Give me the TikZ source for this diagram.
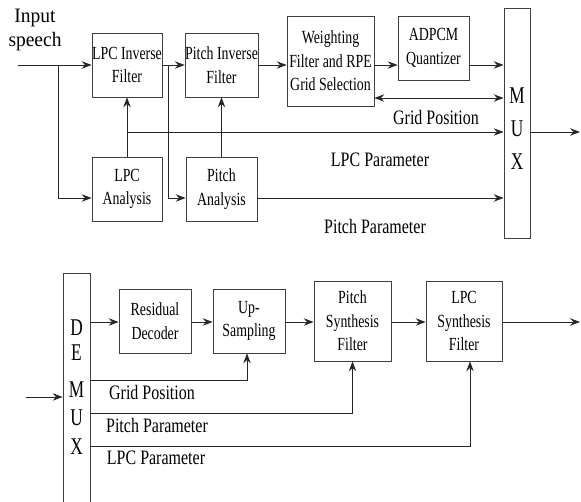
\documentclass[tikz,border=0pt]{standalone}
\usepackage{fontspec}
\setmainfont{Liberation Serif}[FakeStretch=0.78]
\newfontfamily\boxfont{Liberation Serif}[FakeStretch=0.75]
\newfontfamily\plainserif{Liberation Serif}[FakeStretch=0.95]
\newfontfamily\muxfont{Liberation Serif}[FakeStretch=0.72]
\usetikzlibrary{arrows.meta}
\begin{document}
\begin{tikzpicture}[x=1pt,y=-1pt,
  box/.style={draw=black!75, line width=0.8pt, align=center, inner sep=0pt,
    font=\boxfont\fontsize{18.5}{23.5}\selectfont},
  lbl/.style={inner sep=0pt, font=\fontsize{20.5}{23}\selectfont},
  muxl/.style={inner sep=0pt, font=\muxfont\fontsize{24}{33}\selectfont},
  line/.style={line width=0.8pt, draw=black!85},
  arr/.style={line, -{Stealth[length=10pt,width=7.5pt,inset=3.5pt]}},
  darr/.style={line, {Stealth[length=10pt,width=7.5pt,inset=3.5pt]}-{Stealth[length=10pt,width=7.5pt,inset=3.5pt]}}]
\useasboundingbox (0,0) rectangle (581,501);
% ---------- encoder ----------
\node[box, minimum width=70, minimum height=64] (lif) at (127,65) {LPC Inverse\\Filter};
\node[box, minimum width=71, minimum height=64] (pif) at (221.5,65) {Pitch Inverse\\Filter};
\node[box, minimum width=87, minimum height=90] (wf) at (330.5,61) {Weighting\\Filter and RPE\\Grid Selection};
\node[box, minimum width=71, minimum height=64] (adp) at (433.5,48) {ADPCM\\Quantizer};
\node[box, minimum width=26, minimum height=230] (mux) at (517,123) {};
\node[muxl, align=center] (muxt) at (517,128.5) {M\\U\\X};
\node[box, minimum width=70, minimum height=64] (la) at (127,189) {LPC\\Analysis};
\node[box, minimum width=71, minimum height=64] (pa) at (221.5,189) {Pitch\\Analysis};
\node[inner sep=0pt, align=center, font=\plainserif\fontsize{20.5}{24}\selectfont] (inp) at (35,30) {Input\\speech};
\coordinate (in0) at (18,65);
\coordinate (b1) at (58,65);
\coordinate (b2) at (168,65);
\coordinate (out1) at (580,132);
\node[lbl] (gpl) at (436,117) {Grid Position};
\node[lbl] (lpl) at (380,160) {LPC Parameter};
\node[lbl] (ppl) at (375,226) {Pitch Parameter};
\draw[arr] (in0) -- (lif.west |- in0);
\draw[arr] (b1) |- (la.west |- 0,198);
\draw[arr] (lif.east |- 0,65) -- (pif.west |- 0,65);
\draw[arr] (b2) |- (pa.west |- 0,198);
\draw[arr] (pif.east |- 0,65) -- (wf.west |- 0,65);
\draw[arr] (wf.east |- 0,65) -- (adp.west |- 0,65);
\draw[arr] (adp.east |- 0,65) -- (mux.west |- 0,65);
\draw[darr] (wf.east |- 0,98) -- (mux.west |- 0,98);
\draw[arr] (la.north) -- (lif.south);
\draw[arr] (la.north |- 0,132) -- (mux.west |- 0,132);
\draw[arr] (pa.north) -- (pif.south);
\draw[arr] (pa.east |- 0,198) -- (mux.west |- 0,198);
\draw[arr] (mux.east |- out1) -- (out1);
% ---------- decoder ----------
\node[box, minimum width=27, minimum height=236] (dmx) at (76.5,391) {};
\node[muxl] (dD) at (76.5,328) {D};
\node[muxl] (dE) at (76.5,353) {E};
\node[muxl] (dM) at (76.5,390) {M};
\node[muxl] (dU) at (76.5,418) {U};
\node[muxl] (dX) at (76.5,447) {X};
\node[box, minimum width=72, minimum height=64] (rd) at (155,321) {Residual\\Decoder};
\node[box, minimum width=72, minimum height=64] (us) at (249,321) {Up-\\Sampling};
\node[box, minimum width=77, minimum height=80] (psf) at (352.5,321) {Pitch\\Synthesis\\Filter};
\node[box, minimum width=76, minimum height=80] (lsf) at (464,321) {LPC\\Synthesis\\Filter};
\coordinate (in2) at (26,397);
\coordinate (out2) at (580,322);
\node[lbl] (gpl2) at (152,392) {Grid Position};
\node[lbl] (ppl2) at (157,425) {Pitch Parameter};
\node[lbl] (lpl2) at (156,458) {LPC Parameter};
\draw[arr] (in2) -- (dmx.west |- in2);
\draw[arr] (dmx.east |- 0,322) -- (rd.west |- 0,322);
\draw[arr] (rd.east |- 0,322) -- (us.west |- 0,322);
\draw[arr] (us.east |- 0,322) -- (psf.west |- 0,322);
\draw[arr] (psf.east |- 0,322) -- (lsf.west |- 0,322);
\draw[arr] (lsf.east |- out2) -- (out2);
\draw[arr] (dmx.east |- 0,380) -| ([xshift=-2]us.south);
\draw[arr] (dmx.east |- 0,413) -| (psf.south);
\draw[arr] (dmx.east |- 0,446) -| ([xshift=6]lsf.south);
\end{tikzpicture}
\end{document}
